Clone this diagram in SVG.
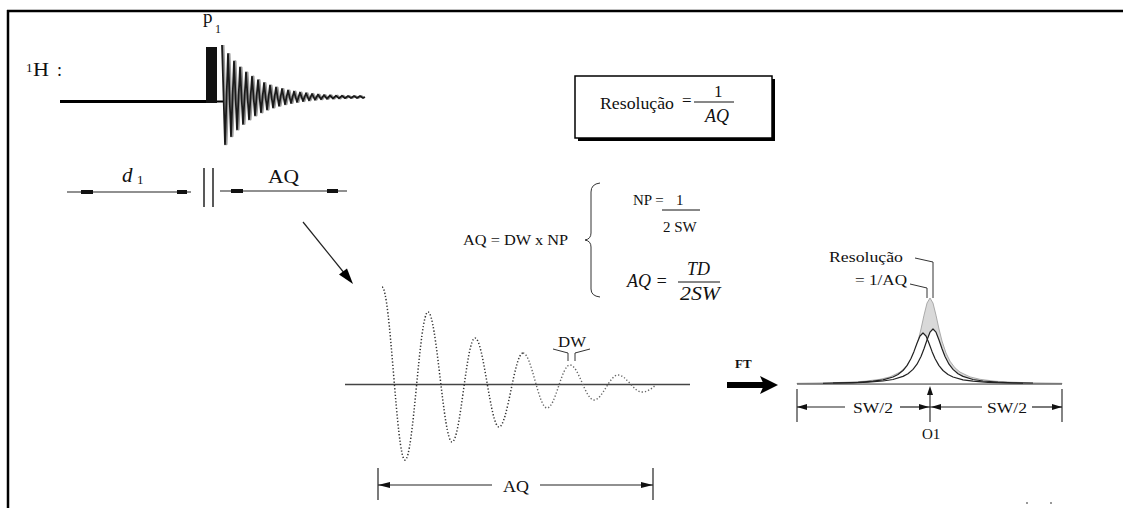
<svg xmlns="http://www.w3.org/2000/svg" width="1123" height="508" viewBox="0 0 1123 508">
<style>
text{font-family:"Liberation Serif","Times New Roman",serif;fill:#111}
.it{font-style:italic}
.ln{stroke:#222;stroke-width:1.2;fill:none}
.thin{stroke:#333;stroke-width:1;fill:none}
</style>
<rect width="1123" height="508" fill="#fff"/>
<g id="frame">
<line x1="7" y1="11" x2="1123" y2="11" stroke="#000" stroke-width="2.5"/>
<line x1="8" y1="10" x2="8" y2="508" stroke="#000" stroke-width="2.5"/>
</g>
<g id="pulse-sequence">
<text x="26" y="72" font-size="13">1</text>
<text x="33" y="76" font-size="18" textLength="16" lengthAdjust="spacingAndGlyphs">H</text>
<text x="57" y="76" font-size="18">:</text>
<line x1="60" y1="101.5" x2="206" y2="101.5" stroke="#000" stroke-width="3"/>
<line x1="217" y1="101.5" x2="223" y2="101.5" stroke="#000" stroke-width="2"/>
<rect x="206" y="47" width="11" height="56" fill="#111"/>
<text x="203" y="23" font-size="19">p</text>
<text x="215" y="33" font-size="12">1</text>
<path d="M223.5,45 L226.5,144.3 L229.5,53.9 L232.5,136.3 L235.5,61.3 L238.5,129.5 L241.5,67.4 L244.5,124 L247.5,72.4 L250.5,119.4 L253.5,76.6 L256.5,115.5 L259.5,80.1 L262.5,112.4 L265.5,83 L268.5,109.7 L271.5,85.4 L274.5,107.6 L277.5,87.4 L280.5,105.8 L283.5,89 L286.5,104.3 L289.5,90.4 L292.5,103 L295.5,91.5 L298.5,102 L301.5,92.5 L304.5,101.1 L307.5,93.2 L310.5,100.4 L313.5,93.9 L316.5,99.8 L319.5,94.5 L322.5,99.3 L325.5,95 L328.5,98.9 L331.5,95.3 L334.5,98.6 L337.5,95.6 L340.5,98.4 L343.5,95.8 L346.5,98.2 L349.5,96 L352.5,98 L355.5,96 L358.5,98 L361.5,96 L364.5,98" fill="none" stroke="#999" stroke-width="2" stroke-linejoin="round"/>
<path d="M222,45 L225,144.3 L228,53.9 L231,136.3 L234,61.3 L237,129.5 L240,67.4 L243,124 L246,72.4 L249,119.4 L252,76.6 L255,115.5 L258,80.1 L261,112.4 L264,83 L267,109.7 L270,85.4 L273,107.6 L276,87.4 L279,105.8 L282,89 L285,104.3 L288,90.4 L291,103 L294,91.5 L297,102 L300,92.5 L303,101.1 L306,93.2 L309,100.4 L312,93.9 L315,99.8 L318,94.5 L321,99.3 L324,95 L327,98.9 L330,95.3 L333,98.6 L336,95.6 L339,98.4 L342,95.8 L345,98.2 L348,96 L351,98 L354,96 L357,98 L360,96 L363,98 L365,97" fill="none" stroke="#1a1a1a" stroke-width="1.8" stroke-linejoin="round"/>
</g>
<g id="delay-dims">
<text x="122" y="182" font-size="21" class="it">d</text>
<text x="137" y="184" font-size="13">1</text>
<line class="ln" x1="67" y1="192" x2="191" y2="192"/>
<rect x="81" y="190" width="12" height="4" fill="#111"/>
<rect x="177" y="190" width="10" height="4" fill="#111"/>
<line x1="204" y1="168" x2="204" y2="207" stroke="#222" stroke-width="1.5"/>
<line x1="213" y1="168" x2="213" y2="207" stroke="#222" stroke-width="1.5"/>
<text x="268" y="183" font-size="18" textLength="31" lengthAdjust="spacingAndGlyphs">AQ</text>
<line class="ln" x1="220" y1="191" x2="347" y2="191"/>
<rect x="231" y="189" width="12" height="4" fill="#111"/>
<rect x="327" y="189" width="11" height="4" fill="#111"/>
</g>
<g id="connectors">
<line x1="303" y1="222" x2="345" y2="274" stroke="#222" stroke-width="1.2"/>
<polygon points="353,284 339,274.6 347,268.4" fill="#000"/>
<text x="735" y="368" font-size="13" font-weight="bold">FT</text>
<rect x="727" y="382" width="37" height="6" fill="#000"/>
<polygon points="760,376 778,385 760,394 764,385" fill="#000"/>
</g>
<g id="resolution-box">
<rect x="578" y="79" width="197" height="62" fill="#000"/>
<rect x="575" y="76" width="197" height="62" fill="#fff" stroke="#000" stroke-width="1.5"/>
<text x="600" y="109" font-size="17" textLength="74" lengthAdjust="spacingAndGlyphs">Resolução</text>
<text x="682" y="106" font-size="17">=</text>
<text x="714" y="97" font-size="17">1</text>
<line x1="694" y1="102" x2="734" y2="102" stroke="#111" stroke-width="1"/>
<text x="705" y="122" font-size="18" class="it">AQ</text>
</g>
<g id="formulas">
<text x="463" y="245" font-size="15" textLength="105" lengthAdjust="spacingAndGlyphs">AQ = DW x NP</text>
<path d="M600,183 Q591,184 591,192 L591,233 Q591,239 585,240 Q591,241 591,247 L591,289 Q591,296 600,297" class="thin"/>
<text x="633" y="205" font-size="15">NP =</text>
<text x="676" y="205" font-size="15">1</text>
<line x1="662" y1="210" x2="700" y2="210" stroke="#111" stroke-width="1"/>
<text x="663" y="232" font-size="15">2 SW</text>
<text x="627" y="287" font-size="18" class="it">AQ =</text>
<text x="687" y="275" font-size="18" class="it">TD</text>
<line x1="678" y1="282" x2="720" y2="282" stroke="#111" stroke-width="1"/>
<text x="680" y="300" font-size="18" class="it" textLength="40" lengthAdjust="spacingAndGlyphs">2SW</text>
</g>
<g id="fid">
<line x1="345" y1="384.5" x2="690" y2="384.5" stroke="#444" stroke-width="1.3"/>
<path d="M382,287 C390.6,287 396.4,460 405,460 C413.6,460 419.4,312 428,312 C436.6,312 443.4,442 452,442 C460.6,442 466.4,338 475,338 C483.6,338 490.4,427 499,427 C507.6,427 514.4,353 523,353" fill="none" stroke="#333" stroke-width="1.5" stroke-dasharray="1.3 2"/>
<path d="M523,353 C531.6,353 538.4,408 547,408 C555.6,408 561.4,365 570,365 C578.6,365 585.4,400 594,400 C602.6,400 609.4,375 618,375 C626.6,375 633.4,392 642,392 C648,392 652,388 656,385" fill="none" stroke="#666" stroke-width="1.4" stroke-dasharray="1.3 2"/>
<text x="558" y="347" font-size="14" textLength="28" lengthAdjust="spacingAndGlyphs">DW</text>
<path d="M553,349 L568,353 L568,361 M590,349 L575,353 L575,361" class="thin"/>
<line x1="378" y1="468" x2="378" y2="500" stroke="#222" stroke-width="1.2"/>
<line x1="653" y1="468" x2="653" y2="500" stroke="#222" stroke-width="1.2"/>
<line x1="378" y1="485" x2="492" y2="485" class="ln"/>
<line x1="540" y1="485" x2="653" y2="485" class="ln"/>
<polygon points="378,485 390,482 390,488" fill="#111"/>
<polygon points="653,485 641,482 641,488" fill="#111"/>
<text x="503" y="492" font-size="17" textLength="26" lengthAdjust="spacingAndGlyphs">AQ</text>
</g>
<g id="spectrum">
<polygon points="797,383.3 830,382.8 850,382.1 865,381.2 880,379.3 890,376.9 900,372.1 905,367.9 910,361.2 914,353 918,341 921,329 924,315.2 927,303.1 930,298 933,303.1 936,315.2 939,329 942,341 946,353 950,361.2 955,367.9 960,372.1 970,376.9 980,379.3 995,381.2 1010,382.1 1030,382.8 1062,383.3 1062,384 797,384" fill="#d9d9d9" stroke="#999" stroke-width="0.8"/>
<polygon points="823,383.3 843,382.9 858,382.3 873,381.2 883,379.8 893,377 898,374.5 903,370.5 907,365.6 911,358.5 914,351.4 917,343.2 920,336 923,333 926,336 929,343.2 932,351.4 935,358.5 939,365.6 943,370.5 948,374.5 953,377 963,379.8 973,381.2 988,382.3 1003,382.9 1023,383.3 1023,384 823,384" fill="#fff"/>
<polygon points="833,383.2 853,382.8 868,382.2 883,381 893,379.5 903,376.4 908,373.7 913,369.4 917,364.2 921,356.5 924,348.8 927,340 930,332.2 933,329 936,332.2 939,340 942,348.8 945,356.5 949,364.2 953,369.4 958,373.7 963,376.4 973,379.5 983,381 998,382.2 1013,382.8 1033,383.2 1033,384 833,384" fill="#fff"/>
<polyline points="823,383.3 843,382.9 858,382.3 873,381.2 883,379.8 893,377 898,374.5 903,370.5 907,365.6 911,358.5 914,351.4 917,343.2 920,336 923,333 926,336 929,343.2 932,351.4 935,358.5 939,365.6 943,370.5 948,374.5 953,377 963,379.8 973,381.2 988,382.3 1003,382.9 1023,383.3" fill="none" stroke="#222" stroke-width="1.2" stroke-linejoin="round"/>
<polyline points="833,383.2 853,382.8 868,382.2 883,381 893,379.5 903,376.4 908,373.7 913,369.4 917,364.2 921,356.5 924,348.8 927,340 930,332.2 933,329 936,332.2 939,340 942,348.8 945,356.5 949,364.2 953,369.4 958,373.7 963,376.4 973,379.5 983,381 998,382.2 1013,382.8 1033,383.2" fill="none" stroke="#222" stroke-width="1.2" stroke-linejoin="round"/>
<line x1="797" y1="384" x2="1062" y2="384" stroke="#444" stroke-width="1.2"/>
<text x="829" y="262" font-size="15" textLength="74" lengthAdjust="spacingAndGlyphs">Resolução</text>
<text x="855" y="285" font-size="15" textLength="52" lengthAdjust="spacingAndGlyphs">= 1/AQ</text>
<path d="M915,258 L933,262 L933,298 M910,284 L927,288 L927,298" class="thin"/>
<line x1="797" y1="389" x2="797" y2="422" stroke="#333" stroke-width="1.2"/>
<line x1="1062" y1="389" x2="1062" y2="422" stroke="#333" stroke-width="1.2"/>
<line x1="930" y1="390" x2="930" y2="422" stroke="#333" stroke-width="1.2"/>
<polygon points="930,386 927,395 933,395" fill="#111"/>
<line x1="797" y1="407" x2="845" y2="407" class="ln"/>
<line x1="900" y1="407" x2="930" y2="407" class="ln"/>
<line x1="930" y1="407" x2="982" y2="407" class="ln"/>
<line x1="1032" y1="407" x2="1062" y2="407" class="ln"/>
<polygon points="797,407 807,404 807,410" fill="#111"/>
<polygon points="929,407 919,404 919,410" fill="#111"/>
<polygon points="931,407 941,404 941,410" fill="#111"/>
<polygon points="1062,407 1052,404 1052,410" fill="#111"/>
<text x="853" y="413" font-size="15" textLength="40" lengthAdjust="spacingAndGlyphs">SW/2</text>
<text x="987" y="413" font-size="15" textLength="40" lengthAdjust="spacingAndGlyphs">SW/2</text>
<text x="922" y="439" font-size="15">O1</text>
</g>
<g id="marks">
<rect x="1026" y="502" width="2" height="2" fill="#999"/>
<rect x="1050" y="502" width="2" height="2" fill="#999"/>
</g>
</svg>
